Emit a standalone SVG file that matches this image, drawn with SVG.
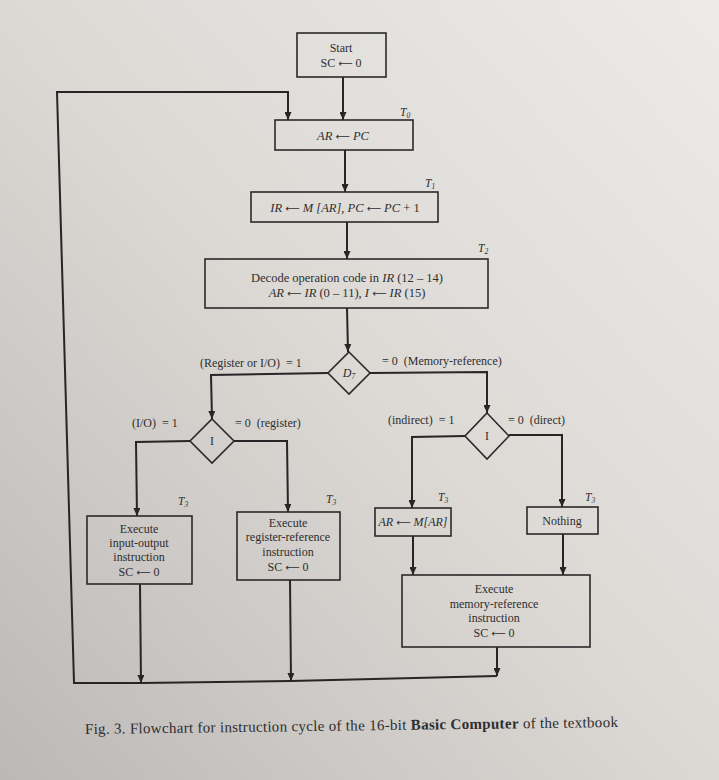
<svg xmlns="http://www.w3.org/2000/svg" width="719" height="780" viewBox="0 0 719 780">
<defs>
<linearGradient id="bg" x1="1" y1="0" x2="0" y2="1">
<stop offset="0" stop-color="#ecebe8"/>
<stop offset="0.5" stop-color="#dcd9d5"/>
<stop offset="1" stop-color="#bcb8b6"/>
</linearGradient>
<marker id="ah" markerUnits="userSpaceOnUse" markerWidth="8" markerHeight="7" refX="8" refY="3.5" orient="auto">
<path d="M0,0 L8,3.5 L0,7 z" fill="#262626"/>
</marker>
<style>
.box{fill:none;stroke:#2a2a2a;stroke-width:1.6}
.dia{fill:none;stroke:#2a2a2a;stroke-width:1.6}
.ln{fill:none;stroke:#262626;stroke-width:2}
.ar{fill:none;stroke:#262626;stroke-width:2;marker-end:url(#ah)}
text{font-family:"Liberation Serif","DejaVu Serif",serif;fill:#2e2e2e}
.c{text-anchor:middle;font-size:12px}
.m{text-anchor:middle;font-size:12.5px}
.lb{font-size:12px}
.i{font-style:italic}
.t{font-style:italic;font-size:11.5px}
.a{font-family:"DejaVu Sans",sans-serif;font-style:normal;font-size:10px}
</style>
</defs>
<rect width="719" height="780" fill="url(#bg)"/>

<g id="connectors">
<line class="ar" x1="343" y1="77" x2="343" y2="120"/>
<line class="ar" x1="345" y1="150" x2="345" y2="192"/>
<line class="ar" x1="347" y1="222" x2="347" y2="259"/>
<line class="ar" x1="347" y1="308" x2="348" y2="352"/>
<polyline class="ar" points="328,373 211,375 212,419"/>
<polyline class="ar" points="370,373 487,372 487,413"/>
<polyline class="ar" points="190,441 136,442 137,516"/>
<polyline class="ar" points="234,441 287,441 288,512"/>
<polyline class="ar" points="465,436 412,437 412,508"/>
<polyline class="ar" points="509,435 562,435 562,507"/>
<line class="ar" x1="413" y1="536" x2="413" y2="575"/>
<line class="ar" x1="563" y1="534" x2="563" y2="575"/>
<line class="ar" x1="140" y1="584" x2="141" y2="683"/>
<line class="ar" x1="290" y1="580" x2="291" y2="681"/>
<line class="ar" x1="497" y1="647" x2="497" y2="676"/>
<polyline class="ln" points="497,676 291,681 141,683 74,683 57,92 288,92"/>
<line class="ar" x1="288" y1="91" x2="288" y2="120"/>
</g>

<g id="start">
<rect class="box" x="297" y="33" width="89" height="44"/>
<text class="c" x="341" y="52">Start</text>
<text class="c" x="341" y="67">SC <tspan class="a">⟵</tspan> 0</text>
</g>

<g id="t0">
<rect class="box" x="275" y="120" width="138" height="30"/>
<text class="m i" x="343" y="140">AR <tspan class="a">⟵</tspan> PC</text>
<text class="t" x="400" y="116">T<tspan font-size="7.5" dy="2">0</tspan></text>
</g>

<g id="t1">
<rect class="box" x="251" y="192" width="187" height="30"/>
<text class="m" x="345" y="212"><tspan class="i">IR <tspan class="a">⟵</tspan> M [AR], PC <tspan class="a">⟵</tspan> PC</tspan> + 1</text>
<text class="t" x="425" y="187">T<tspan font-size="7.5" dy="2">1</tspan></text>
</g>

<g id="t2">
<rect class="box" x="205" y="259" width="283" height="49"/>
<text class="m" x="347" y="282">Decode operation code in <tspan class="i">IR</tspan> (12 – 14)</text>
<text class="m" x="347" y="297"><tspan class="i">AR <tspan class="a">⟵</tspan> IR</tspan> (0 – 11), <tspan class="i">I <tspan class="a">⟵</tspan> IR</tspan> (15)</text>
<text class="t" x="478" y="252">T<tspan font-size="7.5" dy="2">2</tspan></text>
</g>

<g id="d7">
<polygon class="dia" points="349,352 370,373 349,394 328,373"/>
<text class="c i" x="349" y="377">D<tspan font-size="7.5" dy="2">7</tspan></text>
<text class="lb" x="200" y="367" xml:space="preserve">(Register or I/O)  = 1</text>
<text class="lb" x="382" y="365" xml:space="preserve">= 0  (Memory-reference)</text>
</g>

<g id="i-left">
<polygon class="dia" points="212,419 234,441 212,463 190,441"/>
<text class="c" x="212" y="445">I</text>
<text class="lb" x="132" y="427" xml:space="preserve">(I/O)  = 1</text>
<text class="lb" x="235" y="427" xml:space="preserve">= 0  (register)</text>
</g>

<g id="i-right">
<polygon class="dia" points="487,413 509,436 487,459 465,436"/>
<text class="c" x="487" y="440">I</text>
<text class="lb" x="388" y="424" xml:space="preserve">(indirect)  = 1</text>
<text class="lb" x="508" y="424" xml:space="preserve">= 0  (direct)</text>
</g>

<g id="io">
<rect class="box" x="87" y="516" width="105" height="68"/>
<text class="c" x="139" y="533">Execute</text>
<text class="c" x="139" y="547">input-output</text>
<text class="c" x="139" y="561">instruction</text>
<text class="c" x="139" y="576">SC <tspan class="a">⟵</tspan> 0</text>
<text class="t" x="178" y="505">T<tspan font-size="7.5" dy="2">3</tspan></text>
</g>

<g id="reg">
<rect class="box" x="237" y="512" width="103" height="68"/>
<text class="c" x="288" y="527">Execute</text>
<text class="c" x="288" y="541">register-reference</text>
<text class="c" x="288" y="556">instruction</text>
<text class="c" x="288" y="571">SC <tspan class="a">⟵</tspan> 0</text>
<text class="t" x="326" y="503">T<tspan font-size="7.5" dy="2">3</tspan></text>
</g>

<g id="indirect">
<rect class="box" x="375" y="508" width="76" height="28"/>
<text class="c" x="413" y="526"><tspan class="i">AR</tspan> <tspan class="a">⟵</tspan> <tspan class="i">M[AR]</tspan></text>
<text class="t" x="438" y="501">T<tspan font-size="7.5" dy="2">3</tspan></text>
</g>

<g id="nothing">
<rect class="box" x="527" y="507" width="71" height="27"/>
<text class="c" x="562" y="525">Nothing</text>
<text class="t" x="585" y="501">T<tspan font-size="7.5" dy="2">3</tspan></text>
</g>

<g id="mem">
<rect class="box" x="402" y="575" width="188" height="72"/>
<text class="c" x="494" y="593">Execute</text>
<text class="c" x="494" y="608">memory-reference</text>
<text class="c" x="494" y="622">instruction</text>
<text class="c" x="494" y="637">SC <tspan class="a">⟵</tspan> 0</text>
</g>

<g id="caption">
<text x="85" y="734" font-size="15" transform="rotate(-0.75 85 734)" textLength="533" lengthAdjust="spacing">Fig. 3.  Flowchart for instruction cycle of the 16-bit <tspan font-weight="bold">Basic Computer</tspan> of the textbook</text>
</g>
</svg>
